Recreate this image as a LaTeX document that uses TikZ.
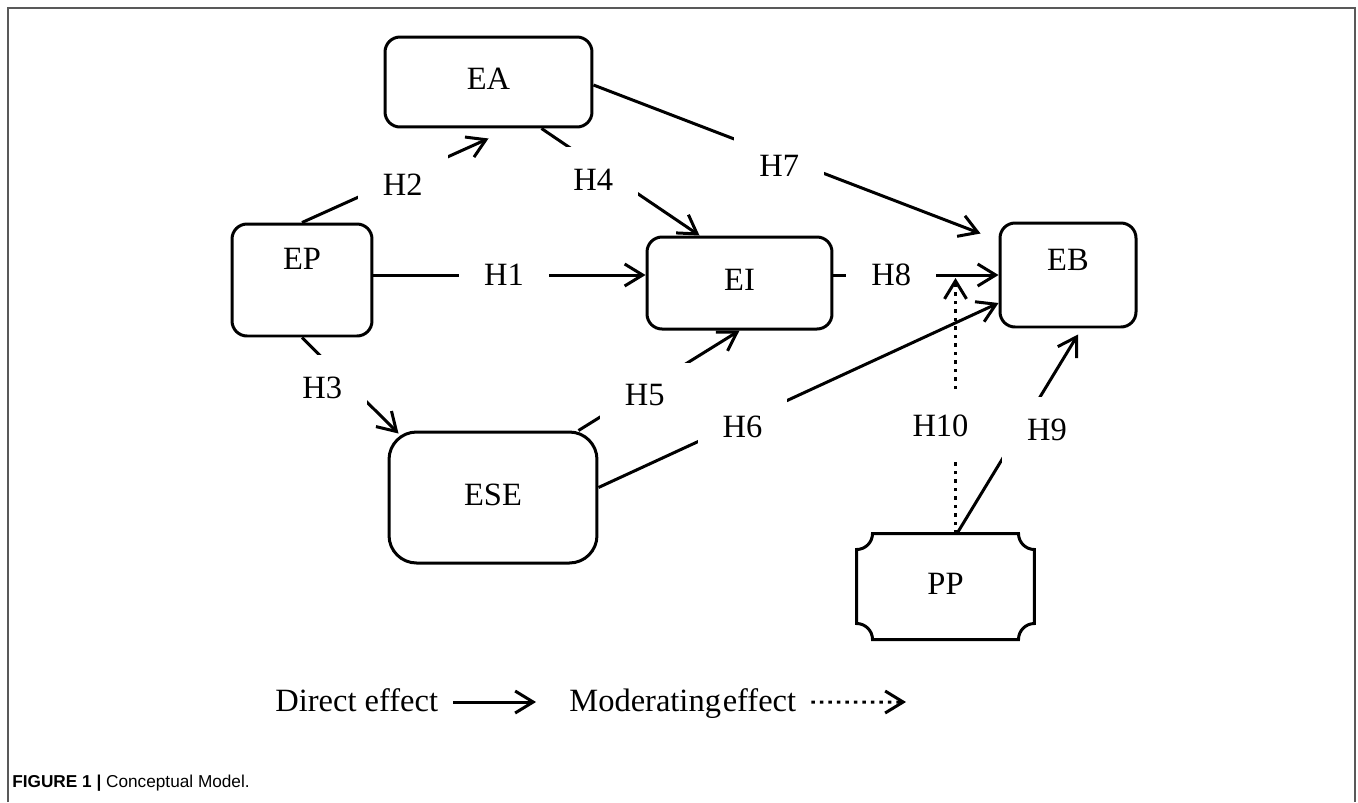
\documentclass[tikz,border=0pt]{standalone}
\usepackage{fontspec}
\setmainfont{Liberation Serif}
\newfontfamily\capfont{Liberation Sans}
\usetikzlibrary{arrows.meta,calc}
\def\hfont{\fontsize{18.5}{20}\selectfont}
\tikzset{
	cbox/.style={draw, line width=0.06cm, rounded corners=0.3cm, font=\hfont, text height=0.45cm, text depth=0.15cm},
	hlbl/.style={fill=white, inner xsep=0.5cm, inner ysep=0.44cm, font=\hfont},
	direff/.style={line width=0.06cm, -{Straight Barb[length=0.36cm,width=0.44cm]}},
	modeff/.style={direff, dash pattern=on 0.07cm off 0.1cm},
}

\begin{document}
\begin{tikzpicture}[x=0.02cm, y=0.02cm]
		%%%%% START %%%%%
		\useasboundingbox (0,0) rectangle (1358,-802);
		\draw[black!65, line width=0.04cm] (8,-802) -- (8,-8) -- (1355,-8) -- (1355,-802);
		
		\node[cbox, minimum width=4.14cm, minimum height=1.8cm] (EA) at (488.5,-82) {EA};
		\node[cbox, minimum width=2.8cm, minimum height=2.24cm, text depth=0.87cm] (EP) at (302,-280) {EP};
		\node[cbox, minimum width=3.7cm, minimum height=1.84cm] (EI) at (739.5,-283) {EI};
		\node[cbox, minimum width=2.72cm, minimum height=2.08cm, text depth=0.63cm] (EB) at (1068,-275) {EB};
		\node[cbox, minimum width=4.16cm, minimum height=2.62cm, rounded corners=0.55cm] (ESE) at (493,-497.5) {ESE};
		\node[cbox, draw=none, minimum width=3.5cm, minimum height=2.06cm] (PP) at (945.5,-586.5) {PP};
		\draw[line width=0.06cm] ([xshift=0.32cm]PP.north west) -- ([xshift=-0.32cm]PP.north east) arc (180:270:0.32cm)
			-- ([yshift=0.32cm]PP.south east) arc (90:180:0.32cm)
			-- ([xshift=0.32cm]PP.south west) arc (0:90:0.32cm)
			-- ([yshift=-0.32cm]PP.north west) arc (270:360:0.32cm) -- cycle;
		
		\draw[direff] ([yshift=0.1cm]EP.east) -- ([yshift=0.1cm]EP.east -| EI.west) node[hlbl, pos=.48] {H1};
		\draw[direff] (EP.north) -- ([yshift=-0.2cm]EA.south) node[hlbl, pos=.54, yshift=-0.16cm] {H2};
		\draw[direff] (EP.south) -- ([xshift=0.22cm,yshift=-0.06cm]ESE.north west) node[hlbl, pos=.52, xshift=-0.6cm] {H3};
		\draw[direff] ([xshift=-1.04cm]EA.south east) -- ([xshift=-0.8cm]EI.north) node[hlbl, pos=.48, xshift=-0.48cm] {H4};
		\draw[direff] ([xshift=-0.4cm]ESE.north east) -- (EI.south) node[hlbl, pos=.35, xshift=0.2cm] {H5};
		\draw[direff] ([yshift=0.2cm]ESE.east) -- ([yshift=-0.56cm]EB.west) node[hlbl, pos=.36, yshift=-0.12cm] {H6};
		\draw[direff] ([yshift=-0.06cm]EA.east) -- ([shift={(-0.36cm,-0.24cm)}]EB.north west) node[hlbl, pos=.48, yshift=-0.2cm] {H7};
		\draw[direff] ([yshift=0.16cm]EI.east) -- ([yshift=0.16cm]EI.east -| EB.west) node[hlbl, pos=.35] {H8};
		\draw[direff] ([xshift=0.23cm]PP.north) -- ([shift={(0.2cm,-0.12cm)}]EB.south) node[hlbl, pos=.52, xshift=0.54cm] {H9};
		
		\coordinate (m8) at (955.5,-278);
		\draw[modeff] (m8 |- PP.north) -- (m8) node[hlbl, pos=.42, xshift=-0.3cm] {H10};
		
		\node[font=\hfont, inner sep=0pt, anchor=base west] (ldir) at (275,-711) {Direct effect};
		\node[font=\hfont, inner sep=0pt, anchor=base west] (lmod) at (569,-711) {Moderating\kern1pt effect};
		\draw[direff, shorten <=0.3cm, shorten >=0.66cm] ([yshift=0.18cm]ldir.base east) -- ([yshift=0.18cm]lmod.base west);
		\coordinate (lend) at (906,-702);
		\draw[modeff] ([shift={(0.3cm,0.18cm)}]lmod.base east) -- (lend);
		
		\node[font=\capfont\fontsize{9.8}{11}\selectfont, inner sep=0pt, anchor=west] (cap) at (12,-783) {\textbf{FIGURE 1 |} Conceptual Model.};
		%%%%% END %%%%%
	\end{tikzpicture}
\end{document}
